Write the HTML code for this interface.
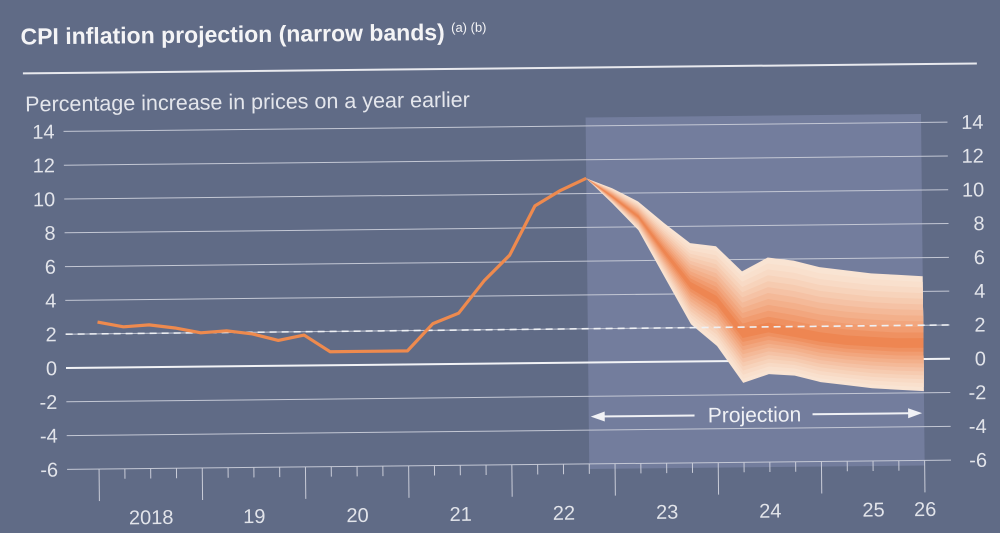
<!DOCTYPE html>
<html><head><meta charset="utf-8"><style>
html,body{margin:0;padding:0;background:#606b86;}
svg{display:block;font-family:"Liberation Sans",sans-serif;}
</style></head><body>
<svg width="1000" height="533" viewBox="0 0 1000 533">
<rect x="0" y="0" width="1000" height="533" fill="#606b86"/>
<g id="root" transform="rotate(-0.6 66 368)">
<text x="24" y="44" font-size="23" font-weight="bold" fill="#f4f4f6">CPI inflation projection (narrow bands) <tspan font-size="13" font-weight="normal" dy="-8">(a) (b)</tspan></text>
<line x1="26" y1="73" x2="980" y2="73" stroke="#e8e9ee" stroke-width="2"/>
<text x="28" y="111" font-size="21.5" fill="#e4e6ec">Percentage increase in prices on a year earlier</text>
<g id="plot"></g>
</g>
</svg>
<script>
const yTicks = [14,12,10,8,6,4,2,0,-2,-4,-6];
const yearLabels = ["2018","19","20","21","22","23","24","25","26"];
const yearLabelQ = [2,6,10,14,18,22,26,30,32];
const histQ = [0,1,2,3,4,5,6,7,8,9,10,11,12,13,14,15,16,17,18,19];
const histVals = [2.7,2.4,2.5,2.3,2.0,2.1,1.9,1.5,1.8,0.8,0.8,0.8,0.8,2.4,3.0,4.9,6.4,9.3,10.2,10.9];
const projQ = [19,20,21,22,23,24,25,26,27,28,29,30,31,32];
const projUpper = [10.9,10.3,9.5,8.2,7.0,6.8,5.3,6.1,5.9,5.5,5.3,5.1,5.0,4.9];
const projCentre = [10.9,9.8,8.6,6.5,4.5,3.6,1.6,1.9,1.6,1.3,1.1,1.0,0.9,0.9];
const projLower = [10.9,9.4,7.8,5.0,2.2,0.9,-1.3,-0.8,-0.9,-1.3,-1.5,-1.7,-1.8,-1.9];
const targetRate = 2;
const projStartQ = 19, projEndQ = 32;

const NS="http://www.w3.org/2000/svg";
const g=document.getElementById('plot');
const X0=98, QW=25.8, Y0=368, U=16.9, XL=66, XR=950;
const x=q=>X0+q*QW, y=v=>Y0-v*U;
function mk(t,a,p){const e=document.createElementNS(NS,t);for(const k in a)e.setAttribute(k,a[k]);(p||g).appendChild(e);return e;}

const pr=mk('rect',{x:x(projStartQ),y:y(14.5),width:x(projEndQ)-x(projStartQ),height:y(-6.3)-y(14.5),fill:'#737d9d'});



yTicks.forEach(v=>{
  const l=mk('line',{x1:XL,x2:XR,y1:y(v),y2:y(v),stroke:v===0?'#f2f3f6':'#c3c7d4','stroke-width':v===0?2:1});
  
  
  const t1=mk('text',{x:57,y:y(v)+7,'font-size':20,fill:'#e2e4ea','text-anchor':'end'});t1.textContent=v;
  
  
  const t2=mk('text',{x:986,y:y(v)+7,'font-size':20,fill:'#e2e4ea','text-anchor':'end'});t2.textContent=v;
  
  
});

// fan bands
const N=12;
const c0=[249,228,211], c1=[238,134,82];
for(let i=0;i<N;i++){
  const f=1-i/N;
  const tt=Math.pow(i/(N-1),1.3);
  const col='rgb('+c0.map((c,k)=>Math.round(c+(c1[k]-c)*tt)).join(',')+')';
  const up=projQ.map((q,j)=>x(q)+','+y(projCentre[j]+f*(projUpper[j]-projCentre[j])));
  const lo=projQ.map((q,j)=>x(q)+','+y(projCentre[j]+f*(projLower[j]-projCentre[j]))).reverse();
  const p=mk('polygon',{points:up.concat(lo).join(' '),fill:col});
  
  
}

const dl=mk('line',{x1:XL,x2:XR,y1:y(targetRate),y2:y(targetRate),stroke:'#eef0f4','stroke-width':1.6,'stroke-dasharray':'7 5'});



const hl=mk('polyline',{points:histQ.map((q,i)=>x(q)+','+y(histVals[i])).join(' '),fill:'none',stroke:'#ee8a4e','stroke-width':3.2,'stroke-linejoin':'round'});



for(let q=0;q<=32;q++){
  const major=q%4===0;
  const t=mk('line',{x1:x(q),x2:x(q),y1:y(-6),y2:y(-6)+(major?32:10),stroke:'#c9ccd8','stroke-width':1});
  
  
}
yearLabels.forEach((s,i)=>{
  const t=mk('text',{x:x(yearLabelQ[i]),y:525,'font-size':20,fill:'#e2e4ea','text-anchor':'middle'});t.textContent=s;
  
  
});

// projection label
const py=y(-3.2);
const a1=mk('line',{x1:x(projStartQ)+6,x2:694,y1:py,y2:py,stroke:'#f0f1f5','stroke-width':2});


const a2=mk('line',{x1:812,x2:x(projEndQ)-6,y1:py,y2:py,stroke:'#f0f1f5','stroke-width':2});


const h1=mk('polygon',{points:`${x(projStartQ)+2},${py} ${x(projStartQ)+16},${py-5} ${x(projStartQ)+16},${py+5}`,fill:'#f0f1f5'});


const h2=mk('polygon',{points:`${x(projEndQ)-2},${py} ${x(projEndQ)-16},${py-5} ${x(projEndQ)-16},${py+5}`,fill:'#f0f1f5'});


const pt=mk('text',{x:754,y:py+7,'font-size':21,fill:'#f0f1f5','text-anchor':'middle'});pt.textContent='Projection';


</script>
</body></html>
